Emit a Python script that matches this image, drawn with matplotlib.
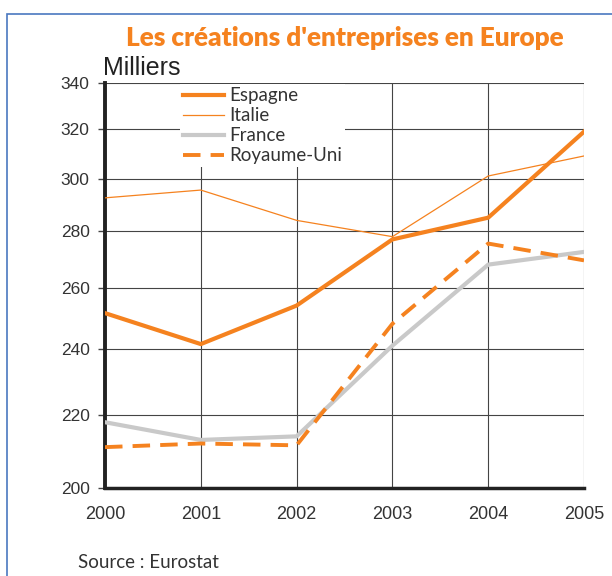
import matplotlib
matplotlib.use("Agg")
import matplotlib.pyplot as plt
from matplotlib.ticker import FixedLocator, FixedFormatter, NullLocator
from matplotlib.patches import Rectangle

annees = [2000, 2001, 2002, 2003, 2004, 2005]
espagne = [251.5, 241.5, 254, 277, 285, 319]
italie = [292.5, 295.5, 284, 278, 301, 309]
france = [218, 213, 214, 241, 268, 272.5]
royaume_uni = [211, 212, 211.5, 248, 275.5, 269.5]
y_ticks = [200, 220, 240, 260, 280, 300, 320, 340]

orange = "#F5821F"
gris = "#C9C9C9"

fig = plt.figure(figsize=(6.12, 5.76), dpi=100)
ax = fig.add_axes([105 / 612, 88 / 576, 479 / 612, 405 / 576])

ax.plot(annees, espagne, color=orange, lw=3, label="Espagne", zorder=4)
ax.plot(annees, italie, color=orange, lw=0.9, label="Italie", zorder=4)
ax.plot(annees, france, color=gris, lw=3, label="France", zorder=3)
ax.plot(annees, royaume_uni, color=orange, lw=2.8, ls=(0, (4.5, 2.6)),
        label="Royaume-Uni", zorder=4)

ax.set_yscale("log")
ax.set_ylim(200, 340)
ax.set_xlim(2000, 2005)
ax.yaxis.set_major_locator(FixedLocator(y_ticks))
ax.yaxis.set_major_formatter(FixedFormatter([str(v) for v in y_ticks]))
ax.yaxis.set_minor_locator(NullLocator())
ax.set_xticks(annees)

ax.grid(True, color="#444444", lw=0.8, zorder=1)
ax.set_axisbelow(True)
for s in ["top", "right"]:
    ax.spines[s].set_visible(False)
ax.spines["left"].set_linewidth(2.8)
ax.spines["bottom"].set_linewidth(2.5)
ax.spines["left"].set_color("#222222")
ax.spines["bottom"].set_color("#222222")
ax.tick_params(axis="y", length=5, width=1, color="#444444", pad=6,
               labelsize=12.5, labelcolor="#333333")
ax.tick_params(axis="x", length=0, pad=13, labelsize=13, labelcolor="#333333")
for lab in ax.get_xticklabels() + ax.get_yticklabels():
    lab.set_fontfamily("Liberation Sans")

leg = ax.legend(loc="upper left", bbox_to_anchor=(0.137, 1.02), frameon=True,
                fancybox=False, edgecolor="none", facecolor="white", framealpha=1,
                handlelength=2.2, handletextpad=0.3, labelspacing=0.16,
                borderpad=0.15, prop={"family": "Lato", "size": 13.5})
for t in leg.get_texts():
    t.set_color("#333333")

fig.text(345 / 612, 1 - 38 / 576, "Les créations d'entreprises en Europe",
         ha="center", va="center", color=orange, fontsize=18.8,
         fontweight="heavy", family="Lato")
fig.text(103 / 612, 1 - 68 / 576, "Milliers", ha="left", va="center",
         color="#222222", fontsize=18, family="Liberation Sans")
fig.text(78 / 612, 1 - 563 / 576, "Source : Eurostat", ha="left", va="center",
         color="#333333", fontsize=13.5, family="Lato")

fig.patches.append(Rectangle((7 / 612, -0.1), 1.2, 1.1 - 14 / 576,
                             transform=fig.transFigure, fill=False,
                             edgecolor="#4A78C0", lw=1.2))

fig.savefig("out.png", dpi=100)
